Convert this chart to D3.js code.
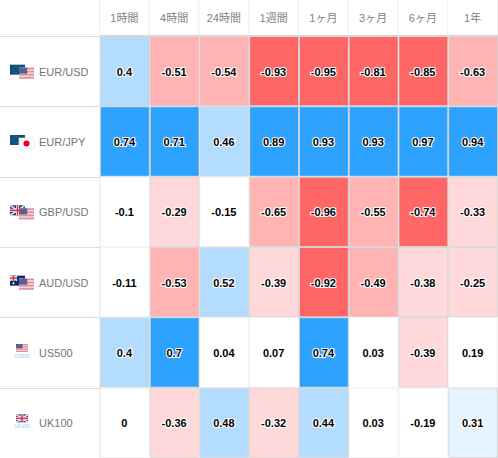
<!DOCTYPE html>
<html><head><meta charset="utf-8">
<script src="https://cdn.jsdelivr.net/npm/d3@7/dist/d3.min.js"></script>
<style>
html,body{margin:0;padding:0;background:#fff;overflow:hidden}
svg{display:block}
text{font-family:"Liberation Sans",Arial,sans-serif}
.hdr{font-family:"Liberation Sans","Noto Sans CJK JP",sans-serif;font-size:11px;fill:#828282;text-anchor:middle}
.lbl{font-size:11px;fill:#757575}
.val{font-size:11px;font-weight:bold;fill:#000;text-anchor:middle;paint-order:stroke;stroke:#fff;stroke-width:2.2px;stroke-linejoin:round}
</style></head><body>
<div id="chart"></div>
<script>
const periods = ["1時間","4時間","24時間","1週間","1ヶ月","3ヶ月","6ヶ月","1年"];
const instruments = ["EUR/USD","EUR/JPY","GBP/USD","AUD/USD","US500","UK100"];
const flags = [["eu","us"],["eu","jp"],["uk","us"],["au","us"],["US"],["UK"]];
const eurUsd = [0.4,-0.51,-0.54,-0.93,-0.95,-0.81,-0.85,-0.63];
const eurJpy = [0.74,0.71,0.46,0.89,0.93,0.93,0.97,0.94];
const gbpUsd = [-0.1,-0.29,-0.15,-0.65,-0.96,-0.55,-0.74,-0.33];
const audUsd = [-0.11,-0.53,0.52,-0.39,-0.92,-0.49,-0.38,-0.25];
const us500 = [0.4,0.7,0.04,0.07,0.74,0.03,-0.39,0.19];
const uk100 = [0,-0.36,0.48,-0.32,0.44,0.03,-0.19,0.31];
const matrix = [eurUsd,eurJpy,gbpUsd,audUsd,us500,uk100];
const thresholds = [-0.7,-0.4,-0.2,0.2,0.4,0.7];
const palette = ["#ff6666","#ffb3b3","#ffd9d9","#ffffff","#e6f4ff","#b3dcff","#2ea2ff"];

const W=498,H=458;
const x=d3.scaleBand().domain(periods).range([100,W]);
const y=d3.scaleBand().domain(instruments).range([36,H]);
const color=d3.scaleThreshold().domain(thresholds).range(palette);
const svg=d3.select("#chart").append("svg").attr("width",W).attr("height",H);

// grid
svg.append("g").selectAll("line").data(periods).join("line")
  .attr("x1",d=>x(d)-0.5).attr("x2",d=>x(d)-0.5).attr("y1",0).attr("y2",H)
  .attr("stroke","#eeeeee");
svg.append("line").attr("x1",W-0.5).attr("x2",W-0.5).attr("y1",0).attr("y2",H).attr("stroke","#eeeeee");

// cells
const rows=svg.append("g").selectAll("g").data(matrix).join("g")
  .attr("transform",(d,i)=>`translate(0,${y(instruments[i])})`);
rows.selectAll("rect").data(d=>d).join("rect")
  .attr("x",(d,i)=>x(periods[i])+0.5).attr("y",0.5)
  .attr("width",x.bandwidth()-1).attr("height",y.bandwidth()-1)
  .attr("fill",d=>color(d))
  .attr("stroke",d=>color(d)==="#ffffff"?"#f0f0f0":"#d4d4d4").attr("stroke-width",0.8);
rows.selectAll("text").data(d=>d).join("text").attr("class","val")
  .attr("x",(d,i)=>x(periods[i])+x.bandwidth()/2-0.5).attr("y",y.bandwidth()/2+4.5)
  .text(d=>d);

// row separators in label column and header
svg.append("g").selectAll("line").data(instruments).join("line")
  .attr("x1",0).attr("x2",100).attr("y1",d=>Math.round(y(d))+0.5).attr("y2",d=>Math.round(y(d))+0.5)
  .attr("stroke","#dddddd");
svg.append("line").attr("x1",100).attr("x2",W).attr("y1",35.5).attr("y2",35.5).attr("stroke","#d8d8d8");

// header
svg.append("g").selectAll("text").data(periods).join("text").attr("class","hdr")
  .attr("x",d=>x(d)+x.bandwidth()/2-0.5).attr("y",22).text(d=>d);

// row labels
svg.append("g").selectAll("text").data(instruments).join("text").attr("class","lbl")
  .attr("x",39).attr("y",d=>y(d)+y.bandwidth()/2+4.5).text(d=>d);

// flag icons
function stripes(g,w,h){
  g.append("rect").attr("width",w).attr("height",h).attr("fill","#f3d5d8");
  d3.range(0,7,2).forEach(i=>g.append("rect").attr("y",i*h/7).attr("width",w).attr("height",h/7).attr("fill","#e08f98"));
  g.append("rect").attr("width",w*0.55).attr("height",h*0.55).attr("fill","#5c5f93");
}
function union(g,w,h){
  g.append("rect").attr("width",w).attr("height",h).attr("fill","#2b3a85");
  g.append("line").attr("x2",w).attr("y2",h).attr("stroke","#eee").attr("stroke-width",1.5);
  g.append("line").attr("x1",w).attr("y2",h).attr("stroke","#eee").attr("stroke-width",1.5);
  g.append("rect").attr("x",w/2-1.5).attr("width",3).attr("height",h).attr("fill","#f4f4f4");
  g.append("rect").attr("y",h/2-1.5).attr("width",w).attr("height",3).attr("fill","#f4f4f4");
  g.append("rect").attr("x",w/2-0.7).attr("width",1.4).attr("height",h).attr("fill","#d8273a");
  g.append("rect").attr("y",h/2-0.7).attr("width",w).attr("height",1.4).attr("fill","#d8273a");
}
const painters={
  eu(g){g.append("rect").attr("width",15).attr("height",10).attr("fill","#0b4f7f");
        g.append("circle").attr("cx",6).attr("cy",5).attr("r",3).attr("fill","none").attr("stroke","#6f8a3c").attr("stroke-width",0.8).attr("stroke-dasharray","1 1");},
  us(g){stripes(g,15,11);},
  jp(g){g.append("rect").attr("width",15).attr("height",11).attr("fill","#fff").attr("stroke","#e6e6e6").attr("stroke-width",0.6);
        g.append("circle").attr("cx",7.5).attr("cy",5.5).attr("r",3).attr("fill","#e8001c");},
  uk(g){union(g,15,10);},
  au(g){g.append("rect").attr("width",15).attr("height",10).attr("fill","#14287a");
        union(g.append("g"),7,5);
        g.append("circle").attr("cx",3.5).attr("cy",7.5).attr("r",1).attr("fill","#fff");
        g.append("circle").attr("cx",11).attr("cy",3).attr("r",0.7).attr("fill","#fff");
        g.append("circle").attr("cx",12).attr("cy",7).attr("r",0.7).attr("fill","#fff");}
};
instruments.forEach((name,i)=>{
  const top=y(name)+y.bandwidth()/2;
  const f=flags[i];
  if(f.length===2){
    const a=svg.append("g").attr("transform",`translate(10,${top-6.5})`); painters[f[0]](a);
    const b=svg.append("g").attr("transform",`translate(19,${top-3.5})`); painters[f[1]](b);
  } else {
    const g=svg.append("g").attr("transform",`translate(16,${top-8.5})`);
    if(f[0]==="US") stripes(g,12,8); else union(g,12,8);
    svg.append("text").attr("x",22).attr("y",top+5.5).attr("text-anchor","middle")
      .attr("font-size",5).attr("fill","#7fd6f2").text(name);
  }
});
</script></body></html>
